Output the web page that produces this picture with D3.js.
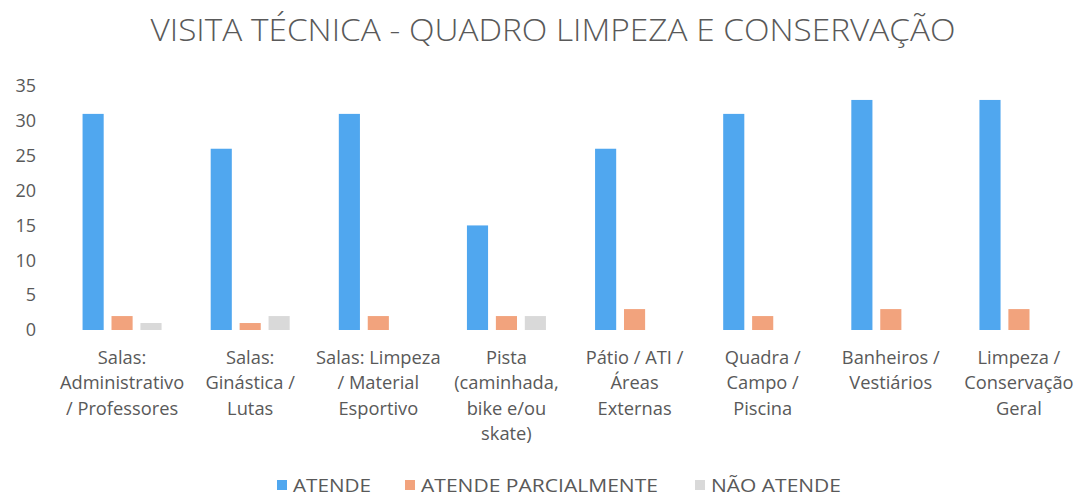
<!DOCTYPE html>
<html>
<head>
<meta charset="utf-8">
<script src="https://cdn.jsdelivr.net/npm/d3@7"></script>
<style>
  html, body { margin: 0; padding: 0; background: #fff; }
  svg { display: block; }
  text { font-family: "Open Sans", sans-serif; fill: #595959; }
</style>
</head>
<body>
<svg id="chart" width="1078" height="497"></svg>
<script>
const title = "VISITA TÉCNICA - QUADRO LIMPEZA E CONSERVAÇÃO";
const categories = [
  ["Salas:", "Administrativo", "/ Professores"],
  ["Salas:", "Ginástica /", "Lutas"],
  ["Salas: Limpeza", "/ Material", "Esportivo"],
  ["Pista", "(caminhada,", "bike e/ou", "skate)"],
  ["Pátio / ATI /", "Áreas", "Externas"],
  ["Quadra /", "Campo /", "Piscina"],
  ["Banheiros /", "Vestiários"],
  ["Limpeza /", "Conservação", "Geral"]
];
const seriesNames = ["ATENDE", "ATENDE PARCIALMENTE", "NÃO ATENDE"];
const atende = [31, 26, 31, 15, 26, 31, 33, 33];
const parcial = [2, 1, 2, 2, 3, 2, 3, 3];
const naoAtende = [1, 2, 0, 2, 0, 0, 0, 0];
const yTicks = [0, 5, 10, 15, 20, 25, 30, 35];
const colors = ["#50A7EF", "#F2A37D", "#D9D9D9"];

const series = [atende, parcial, naoAtende];
const svg = d3.select("#chart");

const x0 = d3.scaleBand().domain(d3.range(categories.length)).range([58, 1083]).paddingInner(0).paddingOuter(0);
const x1 = d3.scaleBand().domain(d3.range(series.length)).range([0, 79]).paddingInner(0.27).paddingOuter(0);
const y = d3.scaleLinear().domain([0, 35]).range([330, 86]);

// title
svg.append("text")
  .attr("x", 553).attr("y", 41)
  .attr("text-anchor", "middle")
  .attr("font-size", 31)
  .attr("font-weight", 300)
  .attr("textLength", 805)
  .attr("lengthAdjust", "spacingAndGlyphs")
  .text(title);

// y axis
const yAxis = d3.axisLeft(y).tickValues(yTicks).tickSize(0).tickPadding(0);
const gy = svg.append("g").attr("transform", "translate(36,0)").call(yAxis);
gy.select(".domain").remove();
gy.selectAll("text").attr("font-size", 18).attr("fill", "#595959").style("font-family", "'Open Sans', sans-serif");

// bars
const groupOffset = (x0.bandwidth() - 79) / 2;
categories.forEach((c, i) => {
  const g = svg.append("g").attr("transform", `translate(${x0(i) + groupOffset},0)`);
  series.forEach((s, k) => {
    if (s[i] > 0) {
      g.append("rect")
        .attr("x", x1(k))
        .attr("y", y(s[i]))
        .attr("width", x1.bandwidth())
        .attr("height", y(0) - y(s[i]))
        .attr("fill", colors[k]);
    }
  });
});

// x labels
categories.forEach((lines, i) => {
  const t = svg.append("text")
    .attr("text-anchor", "middle")
    .attr("font-size", 18.3);
  lines.forEach((ln, j) => {
    t.append("tspan").attr("x", x0(i) + x0.bandwidth() / 2).attr("y", 364 + j * 25.3).text(ln);
  });
});

// legend
const legendX = [277, 405, 695];
const legendW = [78, 237, 130];
seriesNames.forEach((n, k) => {
  svg.append("rect").attr("x", legendX[k]).attr("y", 480).attr("width", 10).attr("height", 10).attr("fill", colors[k]);
  svg.append("text").attr("x", legendX[k] + 16).attr("y", 491.5).attr("font-size", 17.5)
    .attr("textLength", legendW[k]).attr("lengthAdjust", "spacingAndGlyphs").text(n);
});
</script>
</body>
</html>
